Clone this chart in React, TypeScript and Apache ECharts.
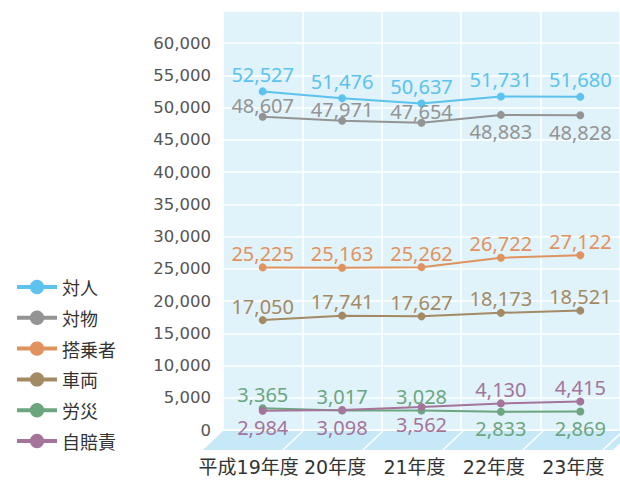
import React, { useEffect, useRef } from "react";
import * as echarts from "echarts";

const categories = ["平成19年度", "20年度", "21年度", "22年度", "23年度"];
const seriesNames = ["対人", "対物", "搭乗者", "車両", "労災", "自賠責"];
const taijin = [52527, 51476, 50637, 51731, 51680];
const taibutsu = [48607, 47971, 47654, 48883, 48828];
const tojosha = [25225, 25163, 25262, 26722, 27122];
const sharyo = [17050, 17741, 17627, 18173, 18521];
const rosai = [3365, 3017, 3028, 2833, 2869];
const jibaiseki = [2984, 3098, 3562, 4130, 4415];
const colors = ["#5bc3ee", "#949494", "#e0935f", "#a38a64", "#6ba67f", "#a4749b"];
const labelPos: string[][] = [
  ["top", "top", "top", "top", "top"],
  ["top", "top", "top", "bottom", "bottom"],
  ["top", "top", "top", "top", "top"],
  ["top", "top", "top", "top", "top"],
  ["top", "top", "top", "bottom", "bottom"],
  ["bottom", "bottom", "bottom", "top", "top"],
];
const allValues = [taijin, taibutsu, tojosha, sharyo, rosai, jibaiseki];

const GRID_LEFT = 223;
const GRID_TOP = 11;
const GRID_BOTTOM_Y = 430;
const BAND = 80;
const FLOOR_DEPTH = 19;
const FLOOR_SHIFT = 20;

export default function App() {
  const ref = useRef<HTMLDivElement>(null);
  useEffect(() => {
    document.body.style.margin = "0";
    const chart = echarts.init(ref.current!, null, { renderer: "svg" });
    const fmt = (v: number) => v.toLocaleString("en-US");

    const labelOffset = (si: number, pos: string): number[] => {
      if (si === 0) return [0, -3];
      if (si === 1 && pos === "top") return [0, 3];
      if (pos === "bottom") return [0, 3];
      return [0, 0];
    };

    const floorY0 = GRID_BOTTOM_Y + 1;
    const floorY1 = floorY0 + FLOOR_DEPTH;
    const graphics: any[] = [
      {
        type: "polygon",
        z: 1,
        silent: true,
        shape: {
          points: [
            [GRID_LEFT, floorY0],
            [GRID_LEFT + BAND * 5 + 10, floorY0],
            [GRID_LEFT + BAND * 5 + 10 - FLOOR_SHIFT, floorY1],
            [GRID_LEFT - FLOOR_SHIFT, floorY1],
          ],
        },
        style: { fill: "#c6e8f7" },
      },
    ];
    for (let k = 1; k <= 5; k++) {
      graphics.push({
        type: "line",
        z: 1,
        silent: true,
        shape: {
          x1: GRID_LEFT + BAND * k,
          y1: floorY0,
          x2: GRID_LEFT + BAND * k - FLOOR_SHIFT,
          y2: floorY1,
        },
        style: { stroke: "#ffffff", lineWidth: 1.5 },
      });
    }

    chart.setOption({
      animation: false,
      color: colors,
      grid: {
        left: GRID_LEFT,
        top: GRID_TOP,
        width: BAND * 5,
        height: GRID_BOTTOM_Y - GRID_TOP,
        show: true,
        backgroundColor: "#e0f2fa",
        borderWidth: 0,
      },
      legend: {
        orient: "vertical",
        left: 15,
        top: 278,
        padding: 0,
        itemWidth: 40,
        itemHeight: 18,
        itemGap: 12.8,
        data: seriesNames,
        lineStyle: { width: 4 },
        textStyle: {
          fontSize: 18,
          color: "#333",
          fontFamily: "Noto Sans CJK JP",
        },
      },
      xAxis: {
        type: "category",
        data: categories,
        boundaryGap: true,
        axisLine: { show: false },
        axisTick: { show: false },
        splitLine: { show: true, lineStyle: { color: "#ffffff", width: 1.5 } },
        axisLabel: {
          margin: 27,
          interval: 0,
          color: "#333",
          fontSize: 19,
          fontFamily: "DejaVu Sans, Noto Sans CJK JP",
          formatter: (v: string, i: number) => (i === 0 ? `{f|${v}}` : `{n|${v}}`),
          rich: {
            f: {
              fontSize: 19,
              color: "#333",
              fontFamily: "DejaVu Sans, Noto Sans CJK JP",
              padding: [0, 28, 0, 0],
            },
            n: {
              fontSize: 19,
              color: "#333",
              fontFamily: "DejaVu Sans, Noto Sans CJK JP",
              padding: [0, 14, 0, 0],
            },
          },
        },
      },
      yAxis: {
        type: "value",
        min: 0,
        max: 65000,
        interval: 5000,
        axisLine: { show: false },
        axisTick: { show: false },
        splitLine: { show: true, lineStyle: { color: "#ffffff", width: 1.5 } },
        axisLabel: {
          margin: 12,
          color: "#555",
          fontSize: 16.5,
          fontFamily: "DejaVu Sans",
          formatter: (v: number) => (v >= 65000 ? "" : fmt(v)),
        },
      },
      series: seriesNames.map((name, si) => ({
        name,
        type: "line",
        z: 3,
        symbol: "circle",
        symbolSize: 8,
        lineStyle: { width: 2, color: colors[si] },
        itemStyle: { color: colors[si] },
        data: allValues[si].map((v, i) => ({
          value: v,
          label: {
            position: labelPos[si][i],
            offset: labelOffset(si, labelPos[si][i]),
          },
        })),
        label: {
          show: true,
          distance: 0,
          color: colors[si],
          fontSize: 20,
          fontFamily: "Noto Sans",
          formatter: (p: any) => fmt(p.value),
        },
      })),
      graphic: graphics,
    });
    return () => chart.dispose();
  }, []);
  return <div ref={ref} style={{ width: 620, height: 480 }} />;
}
